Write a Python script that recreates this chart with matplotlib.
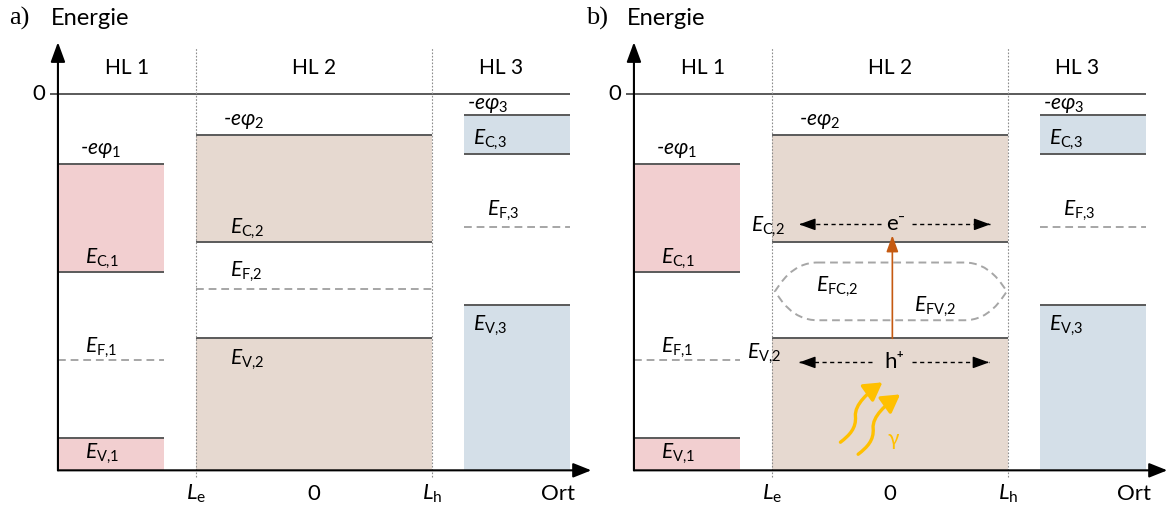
import matplotlib
matplotlib.use('Agg')
import matplotlib.pyplot as plt
from matplotlib.patches import Rectangle, FancyArrowPatch, PathPatch
from matplotlib.path import Path

plt.rcParams['font.family'] = ['Lato', 'DejaVu Sans']
plt.rcParams['mathtext.fontset'] = 'custom'
plt.rcParams['mathtext.rm'] = 'Lato'
plt.rcParams['mathtext.it'] = 'Lato:italic'
plt.rcParams['mathtext.fallback'] = 'stixsans'

# --- Daten: drei Halbleiter (HL), Energien als positive Abstaende unter 0 ---
layers = ['HL 1', 'HL 2', 'HL 3']
x_left = [-2.17, -1.0, 1.27]
x_right = [-1.27, 1.0, 2.17]
phi = [1.40, 0.82, 0.42]     # -e*phi
e_c = [3.55, 2.95, 1.19]
e_f = [5.30, 3.88, 2.66]
e_v = [6.85, 4.87, 4.21]
band_colors = ['#F2CFD0', '#E6D9D0', '#D4DFE8']
e_bottom = -7.5

# Quasi-Ferminiveaus in HL 2 (Teil b)
e_fc2 = 3.36
e_fv2 = 4.51

x_ticks = [-1.0, 0.0, 1.0]
x_ticklabels = [r'$\mathit{L}_{\mathrm{e}}$', '0', r'$\mathit{L}_{\mathrm{h}}$']

line_gray = '#5A5A5A'
dash_gray = '#A6A6A6'
PX_X = 118.0   # px pro x-Einheit
PX_Y = 50.3    # px pro Energieeinheit
FS = 15


def sub(key, n):
    return r'$\mathit{E}_{\mathrm{%s{,}%d}}$' % (key, n)


def phi_label(n):
    return r'-$\mathit{e\varphi}_{%d}$' % n


def dashed_arrow(ax, x0, x1, y):
    ax.plot([x0, x1], [y, y], color='black', lw=1.0, ls=(0, (3, 2.5)))
    ax.annotate('', xy=(x1, y), xytext=(x1 - 0.02 * (1 if x1 > x0 else -1), y),
                arrowprops=dict(arrowstyle='-|>,head_length=0.55,head_width=0.2',
                                mutation_scale=18, color='black', lw=1.0,
                                shrinkA=0, shrinkB=0))


def photon(ax, x0, y0):
    # S-foermiger Pfeil, Form in px relativ zum Start
    shape = [(0, 0), (9, -7), (16, -14), (15, -26), (14, -38), (28, -50), (42, -60)]
    verts = [(x0 + dx / PX_X, y0 - dy / PX_Y) for dx, dy in shape]
    codes = [Path.MOVETO] + [Path.CURVE4] * 6
    ax.add_patch(FancyArrowPatch(path=Path(verts, codes),
                                 arrowstyle='-|>,head_length=0.6,head_width=0.35',
                                 mutation_scale=18, color='#FFC000', lw=2.4))


def quasi_fermi(ax):
    xl, xr = -0.975, 0.99
    top, bot = -e_fc2, -e_fv2
    mid = (top + bot) / 2
    a = 0.36
    h = (top - bot) / 2
    p1, p2x, p2y = 0.4, 0.12, 0.25
    verts = [(xl + a, top), (xr - a, top),
             (xr - p1 * a, top), (xr - p2x * a, mid + p2y * h), (xr, mid),
             (xr - p2x * a, mid - p2y * h), (xr - p1 * a, bot), (xr - a, bot),
             (xl + a, bot),
             (xl + p1 * a, bot), (xl + p2x * a, mid - p2y * h), (xl, mid),
             (xl + p2x * a, mid + p2y * h), (xl + p1 * a, top), (xl + a, top)]
    codes = ([Path.MOVETO, Path.LINETO] + [Path.CURVE4] * 6 + [Path.LINETO]
             + [Path.CURVE4] * 6)
    ax.add_patch(PathPatch(Path(verts, codes), fill=False, ec=dash_gray, lw=1.4,
                           ls=(0, (4, 2.5))))


def draw_panel(ax, letter, excited):
    ax.set_xlim(-2.661, 2.356)
    ax.set_ylim(-8.35, 1.87)
    ax.axis('off')
    ax.patch.set_visible(False)

    # Baender
    for i in range(3):
        w = x_right[i] - x_left[i]
        ax.add_patch(Rectangle((x_left[i], -e_c[i]), w, e_c[i] - phi[i],
                               fc=band_colors[i], ec='none'))
        ax.add_patch(Rectangle((x_left[i], e_bottom), w, -e_v[i] - e_bottom,
                               fc=band_colors[i], ec='none'))
        ax.hlines([-phi[i], -e_c[i], -e_v[i]], x_left[i], x_right[i],
                  color=line_gray, lw=1.4)
        if not (excited and i == 1):
            ax.hlines(-e_f[i], x_left[i], x_right[i], color=dash_gray, lw=1.4,
                      linestyles=[(0, (4, 2.5))])

    # Null-Linie und Grenzen
    ax.hlines(0, -2.24, 2.17, color=line_gray, lw=1.4)
    ax.text(-2.33, 0, '0', ha='center', va='center', fontsize=FS + 1)
    ax.vlines([x_ticks[0], x_ticks[2]], -7.63, 0.93, color='#8C8C8C', lw=0.8,
              linestyles=[(0, (1.5, 1.5))])

    # Achsen
    ax.annotate('', xy=(-2.17, 1.03), xytext=(-2.17, e_bottom),
                arrowprops=dict(arrowstyle='-|>,head_length=0.6,head_width=0.22',
                                mutation_scale=20, color='black', lw=1.5,
                                shrinkA=0, shrinkB=0), annotation_clip=False)
    ax.annotate('', xy=(2.35, e_bottom), xytext=(-2.17, e_bottom),
                arrowprops=dict(arrowstyle='-|>,head_length=0.55,head_width=0.22',
                                mutation_scale=20, color='black', lw=1.5,
                                shrinkA=0, shrinkB=0), annotation_clip=False)

    ax.text(-2.58, 1.51, letter, ha='left', va='center', fontsize=19,
            family='Liberation Serif')
    ax.text(-2.23, 1.51, 'Energie', ha='left', va='center', fontsize=17)
    ax.text(2.07, -7.97, 'Ort', ha='center', va='center', fontsize=FS + 1)
    for xt, lab in zip(x_ticks, x_ticklabels):
        ax.text(xt, -7.97, lab, ha='center', va='center', fontsize=FS + 1)

    hl_x = [(-2.17 + x_ticks[0]) / 2, x_ticks[1], (x_ticks[2] + 2.17) / 2]
    for xh, lab in zip(hl_x, layers):
        ax.text(xh, 0.52, lab, ha='center', va='center', fontsize=FS)

    # Beschriftungen (x-Position, Niveau, Abstand in pt)
    labels = [
        (phi_label(1), x_left[0] + 0.19, -phi[0], 3),
        (sub('C', 1), x_left[0] + 0.23, -e_c[0], 1),
        (sub('F', 1), x_left[0] + 0.23, -e_f[0], 0),
        (sub('V', 1), x_left[0] + 0.23, -e_v[0], -3),
        (phi_label(2), x_left[1] + 0.23, -phi[1], 3),
        (phi_label(3), x_left[2] + 0.03, -phi[2], 0),
        (sub('C', 3), x_left[2] + 0.08, -e_c[2], 1),
        (sub('F', 3), x_left[2] + 0.20, -e_f[2], 3),
        (sub('V', 3), x_left[2] + 0.08, -e_v[2], -6),
    ]
    if excited:
        labels += [
            (sub('C', 2), x_left[1] - 0.18, -e_c[1], 2),
            (sub('V', 2), x_left[1] - 0.21, -e_v[1], -2),
            (r'$\mathit{E}_{\mathrm{FC{,}2}}$', -0.63, -e_fc2, -9),
            (r'$\mathit{E}_{\mathrm{FV{,}2}}$', 0.20, -e_fv2, 1),
        ]
    else:
        labels += [
            (sub('C', 2), x_left[1] + 0.29, -e_c[1], 1),
            (sub('F', 2), x_left[1] + 0.29, -e_f[1], 3),
            (sub('V', 2), x_left[1] + 0.29, -e_v[1], -7),
        ]
    for txt, xl, lev, dy in labels:
        ax.annotate(txt, xy=(xl, lev), xytext=(0, dy), textcoords='offset points',
                    ha='left', va='bottom' if dy >= 0 else 'top', fontsize=FS,
                    style='italic')

    if excited:
        quasi_fermi(ax)
        y_e = -2.60
        y_h = -5.35
        ax.text(0.05, y_e, 'e\u207b', ha='center', va='center', fontsize=FS + 1)
        dashed_arrow(ax, -0.08, -0.77, y_e)
        dashed_arrow(ax, 0.19, 0.85, y_e)
        ax.text(0.04, y_h, 'h\u207a', ha='center', va='center', fontsize=FS + 1)
        dashed_arrow(ax, -0.15, -0.77, y_h)
        dashed_arrow(ax, 0.19, 0.84, y_h)
        ax.annotate('', xy=(0.02, -2.82), xytext=(0.02, -e_v[1]),
                    arrowprops=dict(arrowstyle='-|>,head_length=0.55,head_width=0.2',
                                    mutation_scale=18, color='#C55A11', lw=1.2,
                                    shrinkA=0, shrinkB=0))
        photon(ax, -0.42, -6.94)
        photon(ax, -0.27, -7.18)
        ax.text(0.03, -6.88, '\u03b3', ha='center', va='center', fontsize=FS,
                color='#FFC000')


fig = plt.figure(figsize=(11.68, 5.13), dpi=100)
ax_a = fig.add_axes([0, 0, 592 / 1168, 1])
ax_b = fig.add_axes([576 / 1168, 0, 592 / 1168, 1])
draw_panel(ax_a, 'a)', False)
draw_panel(ax_b, 'b)', True)
fig.savefig('out.png', dpi=100)
